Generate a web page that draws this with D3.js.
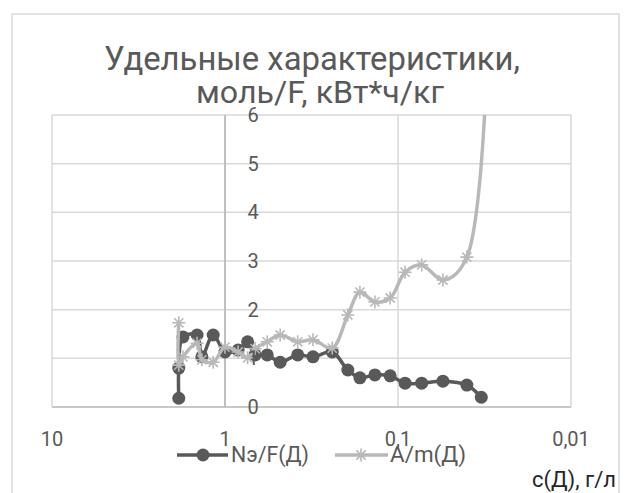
<!DOCTYPE html>
<html>
<head>
<meta charset="utf-8">
<script src="https://cdn.jsdelivr.net/npm/d3@7"></script>
<style>
  html, body { margin: 0; padding: 0; background: #fff; }
  svg { display: block; font-family: Roboto, "Open Sans", sans-serif; }
</style>
</head>
<body>
<svg id="chart" width="627" height="493"></svg>
<script>
// Concentration c(Д), г/л (log axis, decreasing to the right)
const concentration = [1.85, 1.85, 1.75, 1.45, 1.36, 1.17, 1.0, 0.84, 0.74, 0.67, 0.57, 0.48,
                       0.38, 0.31, 0.24, 0.195, 0.166, 0.136, 0.111, 0.091, 0.073, 0.055, 0.040, 0.033];
// Nэ/F(Д), моль/F
const seriesNF = [0.18, 0.80, 1.44, 1.48, 1.03, 1.48, 1.13, 1.17, 1.34, 1.07, 1.07, 0.92,
                  1.07, 1.03, 1.13, 0.76, 0.60, 0.66, 0.64, 0.49, 0.49, 0.53, 0.45, 0.20];
// A/m(Д), кВт*ч/кг
const seriesAm = [1.73, 0.86, 1.03, 1.31, 0.97, 0.92, 1.23, 1.13, 1.01, 1.20, 1.34, 1.48,
                  1.34, 1.38, 1.21, 1.89, 2.36, 2.16, 2.24, 2.77, 2.92, 2.61, 3.08, 40];
const seriesNames = ["Nэ/F(Д)", "A/m(Д)"];
const xTicks = [10, 1, 0.1, 0.01];
const xTickLabels = ["10", "1", "0,1", "0,01"];
const yTicks = [0, 1, 2, 3, 4, 5, 6];
const titleLines = ["Удельные характеристики,", "моль/F, кВт*ч/кг"];
const xAxisTitle = "с(Д), г/л";

const svg = d3.select("#chart");
const textColor = "#595959";
const darkColor = "#595959";
const lightColor = "#b8b8b8";

const plot = { left: 52, right: 571, top: 115, bottom: 407 };
const x = d3.scaleLog().domain([10, 0.01]).range([plot.left, plot.right]);
const y = d3.scaleLinear().domain([0, 6]).range([plot.bottom, plot.top]);

// shrink/grow a text node's font size until it spans the wanted width
function fit(sel, width) {
  sel.each(function () {
    const fs = parseFloat(this.getAttribute("font-size"));
    const w = this.getComputedTextLength();
    if (w > 0) this.setAttribute("font-size", (fs * width / w).toFixed(2));
  });
  return sel;
}

// chart frame
svg.append("rect").attr("x", 12).attr("y", 14).attr("width", 607).attr("height", 500)
  .attr("fill", "#fff").attr("stroke", "#d9d9d9").attr("stroke-width", 1.5);

// title
const title = svg.append("g").attr("fill", textColor);
fit(title.append("text").attr("x", 312).attr("y", 70).attr("text-anchor", "middle")
  .attr("font-size", 36).text(titleLines[0]), 416);
fit(title.append("text").attr("x", 320).attr("y", 103).attr("text-anchor", "middle")
  .attr("font-size", 36).text(titleLines[1]), 248);

// gridlines
const grid = svg.append("g").attr("stroke", "#d9d9d9").attr("stroke-width", 1.5);
grid.selectAll("line.h").data(yTicks).join("line")
  .attr("x1", plot.left).attr("x2", plot.right)
  .attr("y1", d => y(d)).attr("y2", d => y(d));
grid.selectAll("line.v").data(xTicks).join("line")
  .attr("x1", d => x(d)).attr("x2", d => x(d))
  .attr("y1", plot.top).attr("y2", plot.bottom);

// axes: vertical axis crosses at c = 1, horizontal axis at 0
svg.append("line").attr("x1", x(1)).attr("x2", x(1)).attr("y1", plot.top).attr("y2", plot.bottom)
  .attr("stroke", "#bfbfbf").attr("stroke-width", 2);
svg.append("line").attr("x1", plot.left).attr("x2", plot.right).attr("y1", y(0)).attr("y2", y(0))
  .attr("stroke", "#bfbfbf").attr("stroke-width", 1.5);

// series
svg.append("clipPath").attr("id", "plotClip").append("rect")
  .attr("x", plot.left).attr("y", plot.top)
  .attr("width", plot.right - plot.left).attr("height", plot.bottom - plot.top);

const line = d3.line().curve(d3.curveCatmullRom.alpha(0.5)).x(d => x(d[0])).y(d => y(d[1]));
const dataNF = concentration.map((c, i) => [c, seriesNF[i]]);
const dataAm = concentration.map((c, i) => [c, seriesAm[i]]);

const starPath = s => {
  const r = s / 2, a = r * 0.707;
  return `M${-r},0L${r},0M0,${-r}L0,${r}M${-a},${-a}L${a},${a}M${-a},${a}L${a},${-a}`;
};

const gNF = svg.append("g").attr("clip-path", "url(#plotClip)");
gNF.append("path").datum(dataNF).attr("d", line).attr("fill", "none")
  .attr("stroke", darkColor).attr("stroke-width", 3.5).attr("stroke-linejoin", "round");
gNF.selectAll("circle").data(dataNF).join("circle")
  .attr("cx", d => x(d[0])).attr("cy", d => y(d[1])).attr("r", 6.5).attr("fill", darkColor);

const gAm = svg.append("g").attr("clip-path", "url(#plotClip)");
gAm.append("path").datum(dataAm).attr("d", line).attr("fill", "none")
  .attr("stroke", lightColor).attr("stroke-width", 3.5).attr("stroke-linejoin", "round");
gAm.selectAll("path.star").data(dataAm.filter(d => d[1] <= 6)).join("path").attr("class", "star")
  .attr("transform", d => `translate(${x(d[0])},${y(d[1])})`)
  .attr("d", starPath(13)).attr("stroke", lightColor).attr("stroke-width", 1.6).attr("fill", "none");

// y tick labels, placed right of the axis line
svg.append("g").selectAll("text").data(yTicks).join("text")
  .attr("x", x(1) + 28).attr("y", d => y(d) + 7).attr("text-anchor", "middle")
  .attr("font-size", 20).attr("fill", textColor).text(d => d);

// x tick labels
svg.append("g").selectAll("text").data(xTicks).join("text")
  .attr("x", d => x(d)).attr("y", 446).attr("text-anchor", "middle")
  .attr("font-size", 20).attr("fill", textColor).text((d, i) => xTickLabels[i]);

// legend
const legend = svg.append("g");
legend.append("line").attr("x1", 177).attr("x2", 228).attr("y1", 455).attr("y2", 455)
  .attr("stroke", darkColor).attr("stroke-width", 3.5);
legend.append("circle").attr("cx", 203).attr("cy", 455).attr("r", 6.5).attr("fill", darkColor);
fit(legend.append("text").attr("x", 231).attr("y", 462).attr("font-size", 20)
  .attr("fill", textColor).text(seriesNames[0]), 78);
legend.append("line").attr("x1", 335).attr("x2", 388).attr("y1", 455).attr("y2", 455)
  .attr("stroke", lightColor).attr("stroke-width", 3.5);
legend.append("path").attr("transform", "translate(361,455)").attr("d", starPath(13))
  .attr("stroke", lightColor).attr("stroke-width", 1.6).attr("fill", "none");
fit(legend.append("text").attr("x", 390).attr("y", 462).attr("font-size", 20)
  .attr("fill", textColor).text(seriesNames[1]), 76);

// horizontal axis title
svg.append("text").attr("x", 616).attr("y", 487).attr("text-anchor", "end")
  .attr("font-size", 22).attr("fill", "#262626").text(xAxisTitle);
</script>
</body>
</html>
